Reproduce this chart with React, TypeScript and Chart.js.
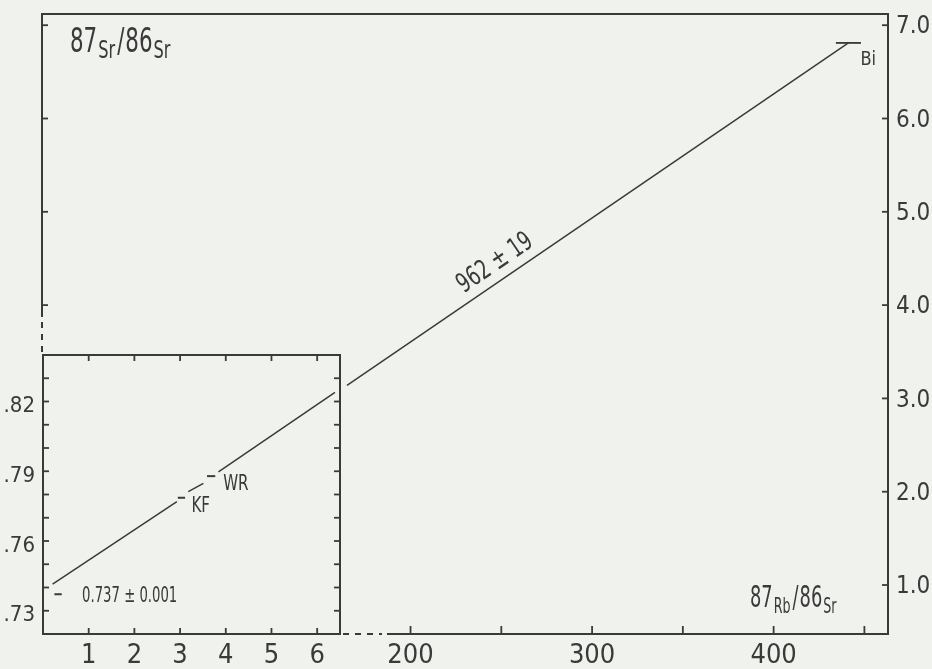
import React, { useEffect, useRef } from 'react';
import { Chart, registerables } from 'chart.js';
Chart.register(...registerables);

const FONT = '"Liberation Sans Narrow", "DejaVu Sans Condensed", "Arial Narrow", sans-serif';
const INK = '#3a3a3a';
const BG = '#f0f2ee';

// ---- main chart data ----
const mainXTicks = [200, 250, 300, 350, 400, 450];
const mainXLabels = [200, 300, 400];
const mainYTicks = [1, 2, 3, 4, 5, 6, 7];
const mainLeftYTicks = [4, 5, 6, 7];
const isochronX = [165, 441.2];
const isochronY = [3.14, 6.81];
const biPoint = { x: 441.2, y: 6.81, err: 6.9 };
const ageLabel = '962 ± 19';

// ---- inset data ----
const insetXTicks = [1, 2, 3, 4, 5, 6];
const insetYTicks = [0.73, 0.74, 0.75, 0.76, 0.77, 0.78, 0.79, 0.8, 0.81, 0.82, 0.83];
const insetYLabels = [0.73, 0.76, 0.79, 0.82];
const insetSegX = [[0.21, 2.93], [3.18, 3.51], [3.84, 6.39]];
const insetSegY = [[0.7414, 0.7769], [0.7812, 0.7848], [0.7897, 0.8239]];
const sampleNames = ['', 'KF', 'WR'];
const sampleX = [0.33, 3.03, 3.68];
const sampleY = [0.7371, 0.7786, 0.7879];
const sampleErr = [0.08, 0.08, 0.09];
const initialLabel = '0.737 ± 0.001';

function txt(ctx: CanvasRenderingContext2D, s: string, x: number, y: number, size: number, sx = 1, align = 'left', baseline: CanvasTextBaseline = 'alphabetic') {
  ctx.save();
  ctx.font = `${size}px ${FONT}`;
  ctx.fillStyle = INK;
  ctx.textBaseline = baseline;
  ctx.textAlign = 'left';
  const w = ctx.measureText(s).width * sx;
  let x0 = x;
  if (align === 'center') x0 = x - w / 2;
  else if (align === 'right') x0 = x - w;
  ctx.translate(x0, y);
  ctx.scale(sx, 1);
  ctx.fillText(s, 0, 0);
  ctx.restore();
  return w;
}

function ratioLabel(ctx: CanvasRenderingContext2D, x: number, y: number, big: number, small: number, drop: number, sx: number, a: string, b: string) {
  let cx = x;
  cx += txt(ctx, '87', cx, y, big, sx);
  cx += txt(ctx, a, cx + 1, y + drop, small, sx) + 3;
  cx += txt(ctx, '/', cx, y, big, sx) + 1;
  cx += txt(ctx, '86', cx, y, big, sx);
  txt(ctx, b, cx + 1, y + drop, small, sx);
}

function seg(ctx: CanvasRenderingContext2D, x1: number, y1: number, x2: number, y2: number) {
  ctx.beginPath();
  ctx.moveTo(x1, y1);
  ctx.lineTo(x2, y2);
  ctx.stroke();
}

const noPad = (s: any) => {
  s.paddingTop = 0;
  s.paddingBottom = 0;
  s.paddingLeft = 0;
  s.paddingRight = 0;
};

const lineDs = (data: { x: number; y: number }[], width = 1.5) => ({
  data,
  showLine: true,
  borderColor: INK,
  backgroundColor: INK,
  borderWidth: width,
  pointRadius: 0,
  pointHoverRadius: 0,
  fill: false,
  tension: 0,
});

const mainPlugin = {
  id: 'mainFrame',
  afterDraw(chart: any) {
    const { ctx, chartArea: a, scales } = chart;
    const x = scales.x, y = scales.y;
    ctx.save();
    ctx.strokeStyle = INK;
    ctx.lineWidth = 2;
    seg(ctx, a.left - 1, a.top, a.right + 1, a.top);
    seg(ctx, a.right, a.top, a.right, a.bottom + 1);
    seg(ctx, a.left, a.top - 1, a.left, 317);
    seg(ctx, 387, a.bottom, a.right + 1, a.bottom);
    ctx.setLineDash([6, 6]);
    seg(ctx, a.left, 322, a.left, 355);
    seg(ctx, 343, a.bottom, 382, a.bottom);
    ctx.setLineDash([]);
    ctx.lineWidth = 1.8;
    mainYTicks.forEach(v => { const p = y.getPixelForValue(v); seg(ctx, a.right - 6, p, a.right, p); });
    mainLeftYTicks.forEach(v => { const p = y.getPixelForValue(v); seg(ctx, a.left, p, a.left + 6, p); });
    mainXTicks.forEach(v => { const p = x.getPixelForValue(v); seg(ctx, p, a.bottom, p, a.bottom - 8); });
    ctx.restore();

    // axis titles
    ratioLabel(ctx, 70, 52, 33, 25, 6, 0.72, 'Sr', 'Sr');
    ratioLabel(ctx, 750, 607, 31, 22, 6, 0.64, 'Rb', 'Sr');

    // Bi label
    const bx = x.getPixelForValue(biPoint.x), by = y.getPixelForValue(biPoint.y);
    txt(ctx, 'Bi', bx + 12, by + 22, 19, 0.95);

    // age label along the isochron
    const x1 = x.getPixelForValue(isochronX[0]), y1 = y.getPixelForValue(isochronY[0]);
    const x2 = x.getPixelForValue(isochronX[1]), y2 = y.getPixelForValue(isochronY[1]);
    const ang = Math.atan2(y2 - y1, x2 - x1);
    const t = 0.315;
    const fx = x1 + (x2 - x1) * t, fy = y1 + (y2 - y1) * t;
    const off = 17;
    const cx = fx + Math.sin(ang) * off, cy = fy - Math.cos(ang) * off;
    ctx.save();
    ctx.translate(cx, cy);
    ctx.rotate(ang);
    txt(ctx, ageLabel, 0, 0, 27, 0.76, 'center', 'middle');
    ctx.restore();
  },
};

const insetPlugin = {
  id: 'insetFrame',
  afterDraw(chart: any) {
    const { ctx, chartArea: a, scales } = chart;
    const x = scales.x, y = scales.y;
    ctx.save();
    ctx.strokeStyle = INK;
    ctx.lineWidth = 2;
    ctx.strokeRect(a.left, a.top, a.right - a.left, a.bottom - a.top);
    ctx.lineWidth = 1.8;
    insetYTicks.forEach(v => {
      const p = y.getPixelForValue(v);
      seg(ctx, a.left, p, a.left + 6, p);
      seg(ctx, a.right - 6, p, a.right, p);
    });
    insetXTicks.forEach(v => {
      const p = x.getPixelForValue(v);
      seg(ctx, p, a.bottom, p, a.bottom - 6);
      seg(ctx, p, a.top, p, a.top + 6);
    });
    ctx.restore();

    sampleNames.forEach((n, i) => {
      const px = x.getPixelForValue(sampleX[i]), py = y.getPixelForValue(sampleY[i]);
      if (i === 0) txt(ctx, initialLabel, px + 24, py + 8, 21, 0.7);
      else txt(ctx, n, px + 10 + (i === 2 ? 2 : 0), py + 14, 21, 0.8);
    });
  },
};

export default function App() {
  const mainRef = useRef<HTMLCanvasElement>(null);
  const insetRef = useRef<HTMLCanvasElement>(null);

  useEffect(() => {
    const main = new Chart(mainRef.current as HTMLCanvasElement, {
      type: 'scatter',
      data: {
        datasets: [
          lineDs(isochronX.map((v, i) => ({ x: v, y: isochronY[i] })), 1.5),
          lineDs([{ x: biPoint.x - biPoint.err, y: biPoint.y }, { x: biPoint.x + biPoint.err, y: biPoint.y }], 1.8),
        ] as any,
      },
      options: {
        animation: false,
        responsive: false,
        maintainAspectRatio: false,
        events: [],
        layout: { padding: { left: 42, top: 14, right: 0, bottom: 0 } },
        plugins: { legend: { display: false }, tooltip: { enabled: false } },
        scales: {
          x: {
            type: 'linear',
            position: 'bottom',
            min: -3,
            max: 463,
            afterBuildTicks: (s: any) => { s.ticks = mainXTicks.map(v => ({ value: v })); },
            afterFit: (s: any) => { s.height = 35; noPad(s); },
            grid: { display: false, drawTicks: false },
            border: { display: false },
            ticks: {
              autoSkip: false,
              maxRotation: 0,
              padding: 6,
              color: INK,
              font: { family: FONT, size: 27 },
              callback: (v: any) => (mainXLabels.includes(Number(v)) ? String(v) : ''),
            },
          },
          y: {
            type: 'linear',
            position: 'right',
            min: 0.475,
            max: 7.12,
            afterBuildTicks: (s: any) => { s.ticks = mainYTicks.map(v => ({ value: v })); },
            afterFit: (s: any) => { s.width = 44; noPad(s); },
            grid: { display: false, drawTicks: false },
            border: { display: false },
            ticks: {
              autoSkip: false,
              padding: 8,
              labelOffset: 2,
              color: INK,
              font: { family: FONT, size: 24 },
              callback: (v: any) => Number(v).toFixed(1),
            },
          },
        },
      },
      plugins: [mainPlugin],
    } as any);

    const inset = new Chart(insetRef.current as HTMLCanvasElement, {
      type: 'scatter',
      data: {
        datasets: [
          ...insetSegX.map((sx, k) => lineDs(sx.map((v, i) => ({ x: v, y: insetSegY[k][i] })), 1.5)),
          ...sampleX.map((v, i) => lineDs([{ x: v - sampleErr[i], y: sampleY[i] }, { x: v + sampleErr[i], y: sampleY[i] }], 2)),
        ] as any,
      },
      options: {
        animation: false,
        responsive: false,
        maintainAspectRatio: false,
        events: [],
        layout: { padding: { left: 0, top: 25, right: 20, bottom: 0 } },
        plugins: { legend: { display: false }, tooltip: { enabled: false } },
        scales: {
          x: {
            type: 'linear',
            position: 'bottom',
            min: 0,
            max: 6.5,
            afterBuildTicks: (s: any) => { s.ticks = insetXTicks.map(v => ({ value: v })); },
            afterFit: (s: any) => { s.height = 35; noPad(s); },
            grid: { display: false, drawTicks: false },
            border: { display: false },
            ticks: {
              autoSkip: false,
              maxRotation: 0,
              padding: 6,
              color: INK,
              font: { family: FONT, size: 27 },
              callback: (v: any) => String(v),
            },
          },
          y: {
            type: 'linear',
            position: 'left',
            min: 0.72,
            max: 0.84,
            afterBuildTicks: (s: any) => { s.ticks = insetYTicks.map(v => ({ value: v })); },
            afterFit: (s: any) => { s.width = 43; noPad(s); },
            grid: { display: false, drawTicks: false },
            border: { display: false },
            ticks: {
              autoSkip: false,
              padding: 8,
              labelOffset: 5,
              color: INK,
              font: { family: FONT, size: 22 },
              callback: (v: any) => (insetYLabels.some(l => Math.abs(l - Number(v)) < 1e-6) ? Number(v).toFixed(2).slice(1) : ''),
            },
          },
        },
      },
      plugins: [insetPlugin],
    } as any);

    return () => { main.destroy(); inset.destroy(); };
  }, []);

  return (
    <div style={{ position: 'fixed', left: 0, top: 0, width: 932, height: 669, background: BG, overflow: 'hidden' }}>
      <canvas ref={mainRef} width={932} height={669} style={{ position: 'absolute', left: 0, top: 0, width: 932, height: 669 }} />
      <canvas ref={insetRef} width={360} height={339} style={{ position: 'absolute', left: 0, top: 330, width: 360, height: 339 }} />
    </div>
  );
}
